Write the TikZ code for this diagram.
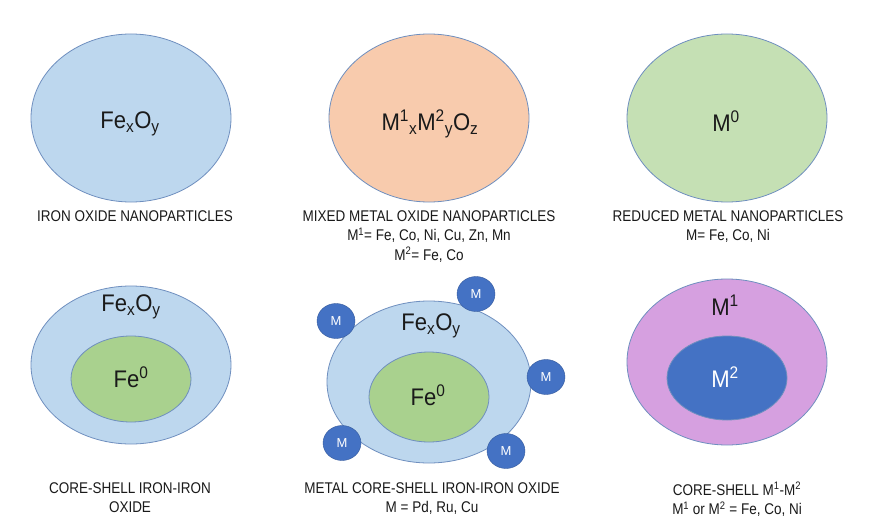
\documentclass[tikz,border=0pt]{standalone}
\usepackage{fontspec}
\setmainfont{Liberation Sans}
\newfontfamily\narrowfont[FakeStretch=0.87]{Liberation Sans}
\newfontfamily\labelfont[FakeStretch=0.92]{Liberation Sans}
\usetikzlibrary{shapes.geometric}
\definecolor{shellblue}{HTML}{BDD7EE}
\definecolor{edgeblue}{HTML}{6F8FBF}
\definecolor{oxorange}{HTML}{F8CBAD}
\definecolor{palegreen}{HTML}{C5E0B4}
\definecolor{coregreen}{HTML}{A9D18E}
\definecolor{shellpurple}{HTML}{D6A0E0}
\definecolor{darkblue}{HTML}{4472C4}
\definecolor{textgray}{HTML}{1A1A1A}
\tikzset{
  particle/.style={ellipse, draw=edgeblue, line width=0.8pt, inner sep=0pt},
  bigp/.style={particle, minimum width=200pt, minimum height=168pt},
  shellp/.style={particle, minimum width=200pt, minimum height=158pt},
  corep/.style={particle, minimum width=120pt, minimum height=86pt},
  smallm/.style={ellipse, fill=darkblue, draw=darkblue!80!black, line width=0.4pt, minimum width=38pt, minimum height=35pt, inner sep=0pt, text=white, font=\fontsize{13}{13}\selectfont},
  biglabel/.style={font=\labelfont\fontsize{24}{26}\selectfont, text=textgray, inner sep=0pt},
  caption/.style={font=\narrowfont\fontsize{15.5}{19.5}\selectfont, text=textgray, align=center, inner sep=0pt}
}
\begin{document}
\begin{tikzpicture}[x=1pt,y=-1pt]
\useasboundingbox[fill=white] (0,0) rectangle (872,532);
% top row
\node[bigp, fill=shellblue] (p1) at (131,118) {};
\node[biglabel] (t1) at (130,124) {Fe\textsubscript{x}O\textsubscript{y}};
\node[caption, anchor=north] (c1) at (135,210) {IRON OXIDE NANOPARTICLES};

\node[bigp, fill=oxorange] (p2) at (429,118) {};
\node[biglabel] (t2) at (430,124) {M\textsuperscript{1}\textsubscript{x}M\textsuperscript{2}\textsubscript{y}O\textsubscript{z}};
\node[caption, anchor=north] (c2) at (429,210) {MIXED METAL OXIDE NANOPARTICLES\\M\textsuperscript{1}= Fe, Co, Ni, Cu, Zn, Mn\\M\textsuperscript{2}= Fe, Co};

\node[bigp, fill=palegreen] (p3) at (727,118) {};
\node[biglabel] (t3) at (726,121) {M\textsuperscript{0}};
\node[caption, anchor=north] (c3) at (728,210) {REDUCED METAL NANOPARTICLES\\M= Fe, Co, Ni};

% bottom row
\node[shellp, fill=shellblue] (p4) at (131,365) {};
\node[corep, fill=coregreen] (k4) at (131,379) {};
\node[biglabel] (t4) at (131,307) {Fe\textsubscript{x}O\textsubscript{y}};
\node[biglabel] (u4) at (131,377) {Fe\textsuperscript{0}};
\node[caption, anchor=north] (c4) at (130,482) {CORE-SHELL IRON-IRON\\OXIDE};

\node[shellp, fill=shellblue, minimum width=204pt, minimum height=162pt] (p5) at (429,382) {};
\node[corep, fill=coregreen, minimum height=90pt] (k5) at (429,397) {};
\node[biglabel] (t5) at (431,326) {Fe\textsubscript{x}O\textsubscript{y}};
\node[biglabel] (u5) at (428,395) {Fe\textsuperscript{0}};
\node[smallm] (m1) at (336,321) {M};
\node[smallm] (m2) at (476,294) {M};
\node[smallm] (m3) at (546,377) {M};
\node[smallm] (m4) at (342,443) {M};
\node[smallm] (m5) at (506,451) {M};
\node[caption, anchor=north] (c5) at (432,482) {METAL CORE-SHELL IRON-IRON OXIDE\\M = Pd, Ru, Cu};

\node[particle, fill=shellpurple, minimum width=200pt, minimum height=166pt] (p6) at (727,362) {};
\node[particle, fill=darkblue, minimum width=120pt, minimum height=84pt] (k6) at (727,378) {};
\node[biglabel] (t6) at (725,305) {M\textsuperscript{1}};
\node[biglabel, text=white] (u6) at (725,377) {M\textsuperscript{2}};
\node[caption, anchor=north] (c6) at (737,482) {CORE-SHELL M\textsuperscript{1}-M\textsuperscript{2}\\M\textsuperscript{1} or M\textsuperscript{2} = Fe, Co, Ni};
\end{tikzpicture}
\end{document}
